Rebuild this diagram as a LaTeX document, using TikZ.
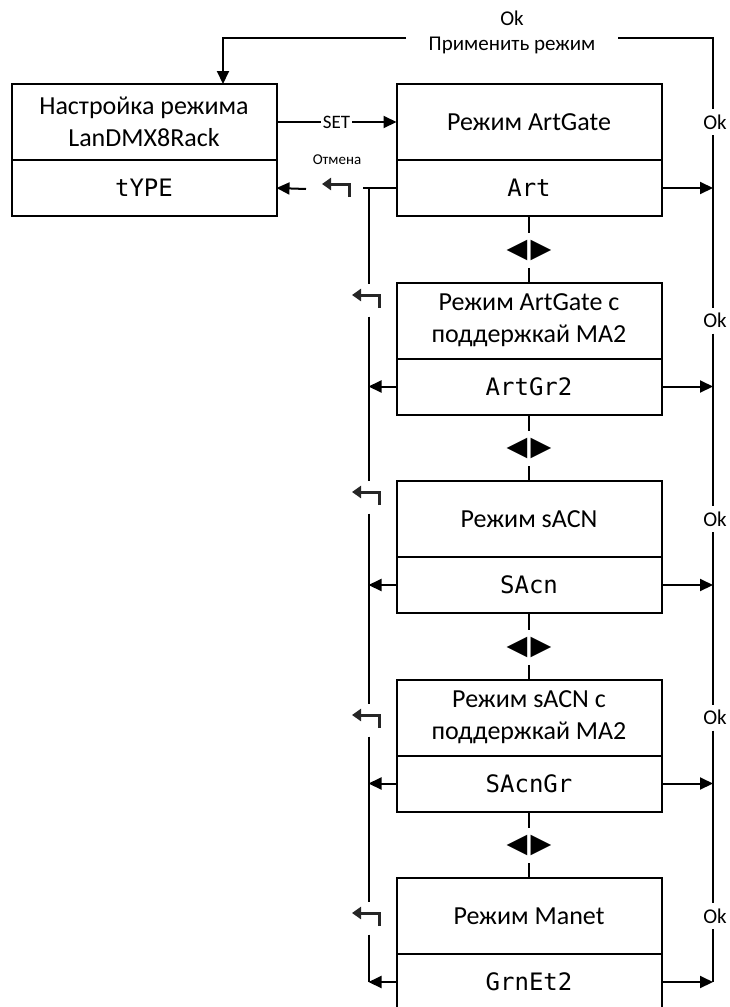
\documentclass[tikz,border=0pt]{standalone}
\usepackage{fontspec}
\setmainfont{Carlito}
\newfontfamily\segfont{DejaVu Sans Mono}
\newfontfamily\symfont{DejaVu Sans}
\usepackage{tikz}
\usetikzlibrary{arrows.meta, positioning}

\begin{document}
\begin{tikzpicture}[
    x=1pt, y=-1pt,
    >={Triangle[length=13pt,width=12pt]},
    line width=2pt,
    node distance=0pt,
    head/.style={
        draw, rectangle, minimum width=265pt, minimum height=76pt,
        inner sep=0pt, outer sep=0pt, align=center,
        font=\fontsize{26}{32}\selectfont
    },
    disp/.style={
        draw, rectangle, minimum width=265pt, minimum height=56pt,
        inner sep=0pt, outer sep=0pt,
        font=\segfont\fontsize{24}{24}\selectfont
    },
    nav/.style={
        minimum height=33pt, inner sep=0pt,
        font=\symfont\fontsize{27}{27}\selectfont
    },
    back/.style={
        minimum width=30pt, minimum height=31pt, inner sep=0pt
    },
    backsym/.style={
        draw=black!85, line width=3pt, -{Triangle[length=9pt,width=12pt]}
    },
    oklbl/.style={
        minimum height=24pt, inner sep=0pt,
        font=\fontsize{21}{21}\selectfont
    },
    toplbl/.style={
        minimum width=210pt, inner sep=0pt, align=center,
        font=\fontsize{21}{25}\selectfont
    }
]
\useasboundingbox (0,0) rectangle (729,1007);

\node [head] (head0) at (144,122) {Настройка режима\\LanDMX8Rack};
\node [disp, below=of head0] (disp0) {tYPE};

\node [head, right=120pt of head0] (head1) {Режим ArtGate};
\node [disp, below=of head1] (disp1) {Art};

\node [head, below=66.5pt of disp1] (head2) {Режим ArtGate с\\поддержкай MA2};
\node [disp, below=of head2] (disp2) {ArtGr2};

\node [head, below=66.5pt of disp2] (head3) {Режим sACN};
\node [disp, below=of head3] (disp3) {SAcn};

\node [head, below=66.5pt of disp3] (head4) {Режим sACN с\\поддержкай MA2};
\node [disp, below=of head4] (disp4) {SAcnGr};

\node [head, below=66.5pt of disp4] (head5) {Режим Manet};
\node [disp, below=of head5] (disp5) {GrnEt2};

% switching between modes
\node [nav, below=16.75pt of disp1] (nav1) {◀\kern3pt▶};
\node [nav, below=16.75pt of disp2] (nav2) {◀\kern3pt▶};
\node [nav, below=16.75pt of disp3] (nav3) {◀\kern3pt▶};
\node [nav, below=16.75pt of disp4] (nav4) {◀\kern3pt▶};

\coordinate (railtop)  at (713,38);
\coordinate (tlcorner) at (223,38);
\coordinate (lrail) at ([xshift=-28pt]disp1.west);
\coordinate (stub)  at ([xshift=-34pt]disp1.west);

\node [toplbl] (apply) at (512,32) {Ok\\Применить режим};

\node [oklbl, xshift=2pt] (ok1) at (head1 -| railtop) {Ok};
\node [oklbl, xshift=2pt] (ok2) at (head2 -| railtop) {Ok};
\node [oklbl, xshift=2pt] (ok3) at (head3 -| railtop) {Ok};
\node [oklbl, xshift=2pt] (ok4) at (head4 -| railtop) {Ok};
\node [oklbl, xshift=2pt] (ok5) at (head5 -| railtop) {Ok};

\node [back, minimum width=58pt] (cancel) at (336,189) {};
\node [font=\fontsize{15}{15}\selectfont] (cancellbl) at (337,160) {Отмена};
\node [back] (back2) at (366,300) {};
\node [back] (back3) at (366,497) {};
\node [back] (back4) at (366,720) {};
\node [back] (back5) at (366,918) {};

% return symbols
\draw[backsym] ([xshift=13pt,yshift=-8pt]cancel.center) |- ([xshift=-14pt,yshift=5pt]cancel.center);
\draw[backsym] ([xshift=13pt,yshift=-8pt]back2.center) |- ([xshift=-14pt,yshift=5pt]back2.center);
\draw[backsym] ([xshift=13pt,yshift=-8pt]back3.center) |- ([xshift=-14pt,yshift=5pt]back3.center);
\draw[backsym] ([xshift=13pt,yshift=-8pt]back4.center) |- ([xshift=-14pt,yshift=5pt]back4.center);
\draw[backsym] ([xshift=13pt,yshift=-8pt]back5.center) |- ([xshift=-14pt,yshift=5pt]back5.center);

\draw[->] (head0.east) -- node[fill=white, inner sep=2pt, font=\fontsize{19}{19}\selectfont] {SET} (head1.west);

% Ok: apply mode
\draw (apply.east |- railtop) -- (railtop) -- (ok1.north -| railtop);
\draw[->] (apply.west |- railtop) -- (tlcorner) -- (tlcorner |- head0.north);
\draw (ok1.south -| railtop) -- (ok2.north -| railtop);
\draw (ok2.south -| railtop) -- (ok3.north -| railtop);
\draw (ok3.south -| railtop) -- (ok4.north -| railtop);
\draw (ok4.south -| railtop) -- (ok5.north -| railtop);
\draw (ok5.south -| railtop) -- (disp5.east -| railtop);

\draw[->] (disp1.east) -- (disp1.east -| railtop);
\draw[->] (disp2.east) -- (disp2.east -| railtop);
\draw[->] (disp3.east) -- (disp3.east -| railtop);
\draw[->] (disp4.east) -- (disp4.east -| railtop);
\draw[->] (disp5.east) -- (disp5.east -| railtop);

% cancel
\draw (disp1.west) -- (stub);
\draw (lrail) -- (back2.north -| lrail);
\draw (back2.south -| lrail) -- (back3.north -| lrail);
\draw (back3.south -| lrail) -- (back4.north -| lrail);
\draw (back4.south -| lrail) -- (back5.north -| lrail);
\draw (back5.south -| lrail) -- (disp5.west -| lrail);

\draw[->] (disp2.west) -- (disp2.west -| lrail);
\draw[->] (disp3.west) -- (disp3.west -| lrail);
\draw[->] (disp4.west) -- (disp4.west -| lrail);
\draw[->] (disp5.west) -- (disp5.west -| lrail);

\draw[->] (cancel.west) -- (disp0.east);

\draw (disp1.south) -- (nav1.north);
\draw (nav1.south) -- (head2.north);
\draw (disp2.south) -- (nav2.north);
\draw (nav2.south) -- (head3.north);
\draw (disp3.south) -- (nav3.north);
\draw (nav3.south) -- (head4.north);
\draw (disp4.south) -- (nav4.north);
\draw (nav4.south) -- (head5.north);

\end{tikzpicture}
\end{document}
